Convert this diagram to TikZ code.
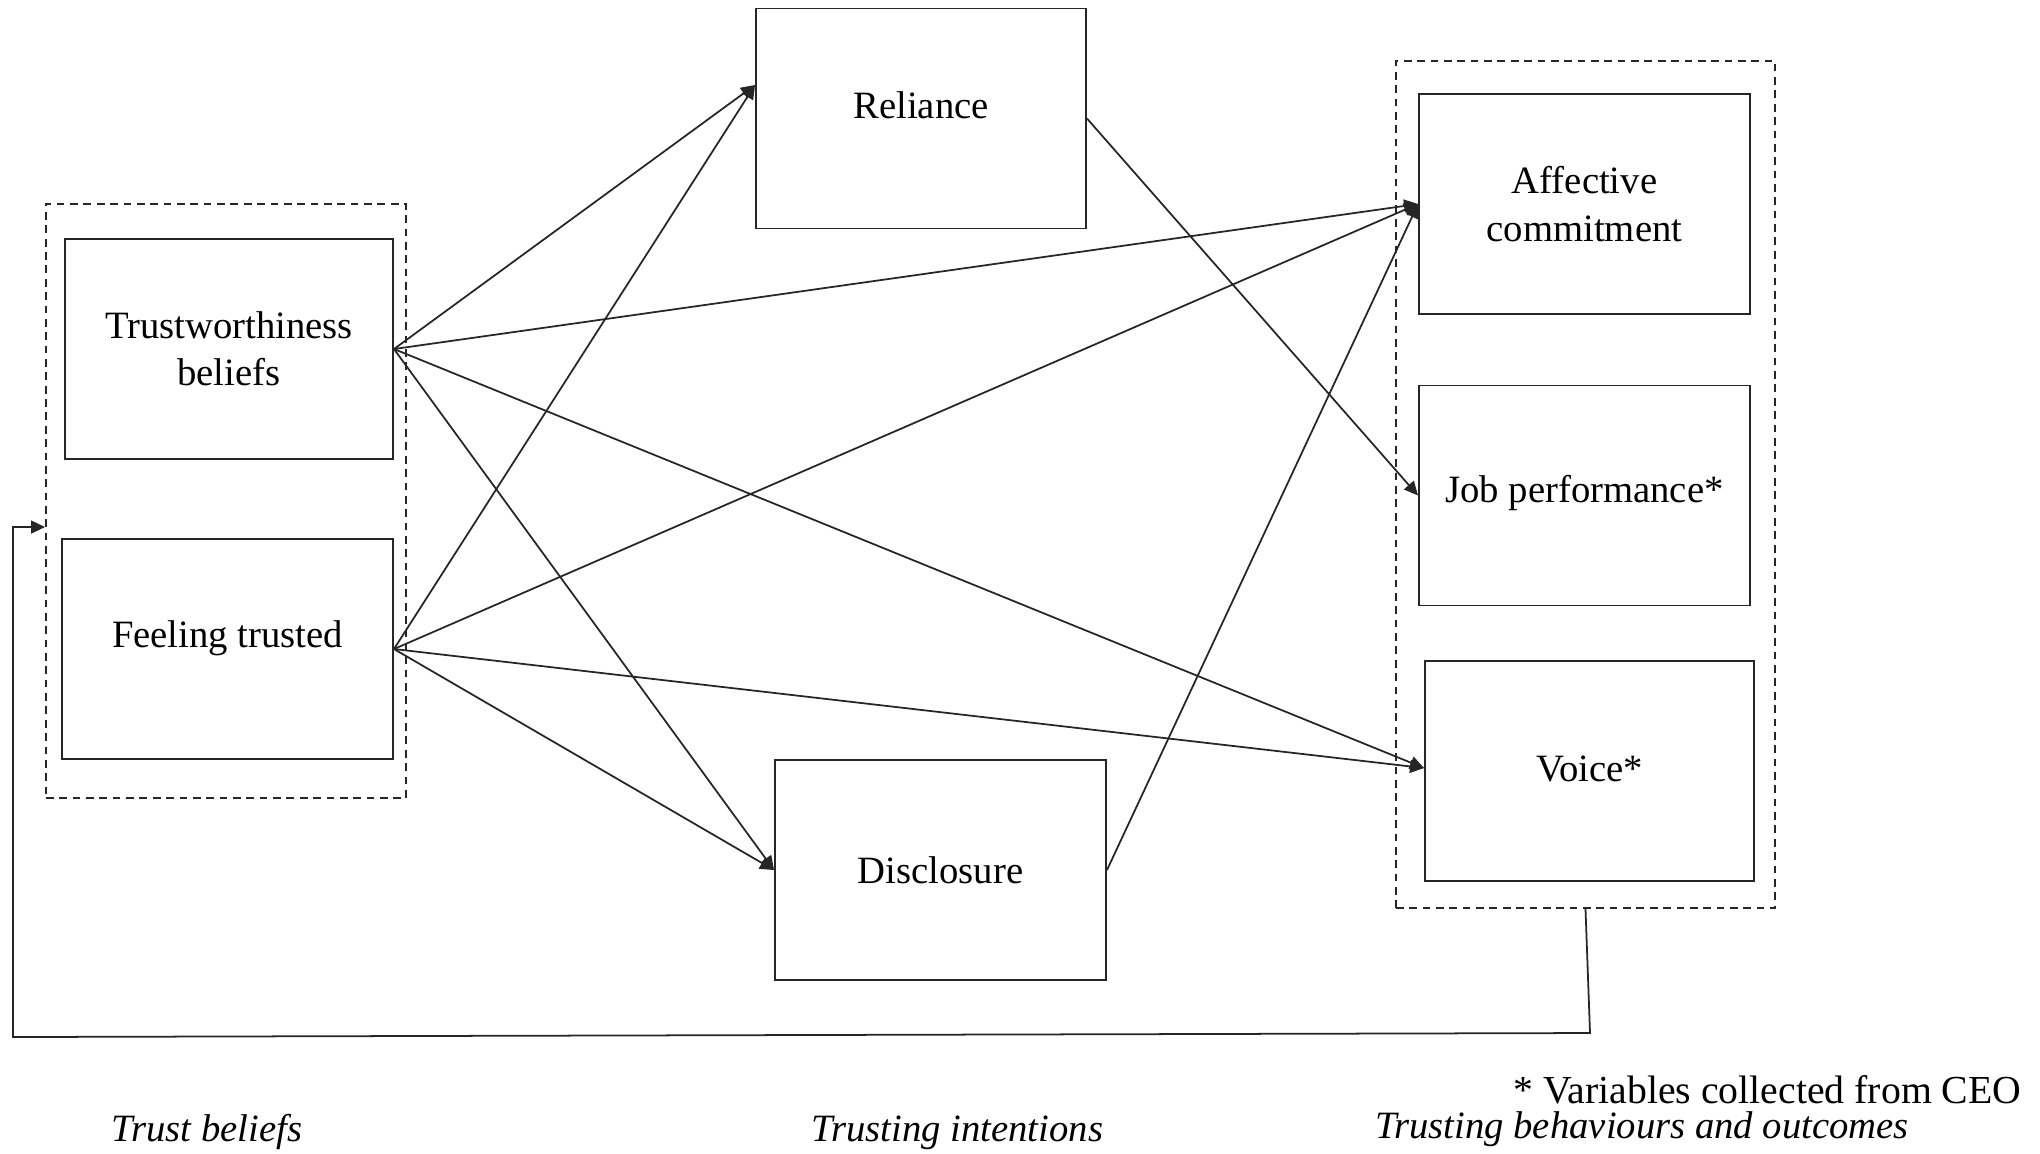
\documentclass[tikz,border=0pt]{standalone}
\usepackage{fontspec}
\setmainfont{Liberation Serif}
\usetikzlibrary{arrows.meta,calc}

\begin{document}
\begin{tikzpicture}[x=0.01cm,y=-0.01cm,
    box/.style={draw=black!85,line width=0.5pt,minimum width=3.3cm,minimum height=2.2cm,align=center,inner sep=0pt,font=\fontsize{11}{13.5}\selectfont},
    grp/.style={draw=black!85,line width=0.5pt,dash pattern=on 2.2pt off 1.6pt,inner sep=0pt},
    link/.style={draw=black!85,line width=0.5pt,-{Triangle[length=1.4mm,width=1.3mm]}},
    lbl/.style={font=\fontsize{11}{13}\selectfont\itshape,inner sep=0pt}]
  \useasboundingbox (0,0) rectangle (2040,1153);
  \node[grp,minimum width=3.6cm,minimum height=5.94cm] (trustgrp) at (226,501) {};
  \node[grp,minimum width=3.79cm,minimum height=8.47cm] (outgrp) at (1585.5,484.5) {};
  \node[box,minimum width=3.28cm] (worthy) at (229,349) {Trustworthiness\\beliefs};
  \node[box,minimum width=3.31cm,text depth=0.3cm] (felt) at (227.5,649) {Feeling trusted};
  \node[box,text depth=0.26cm] (rely) at (921,118.5) {Reliance};
  \node[box,minimum width=3.31cm] (disc) at (940.5,870) {Disclosure};
  \node[box,minimum width=3.31cm] (affect) at (1584.5,204) {Affective\\commitment};
  \node[box,minimum width=3.31cm,text depth=0.13cm] (job) at (1584.5,495.5) {Job performance*};
  \node[box,minimum width=3.29cm,text depth=0.05cm] (voice) at (1589.5,771) {Voice*};
  \draw[link] (worthy.east) -- ([yshift=0.335cm]rely.west);
  \draw[link] (felt.east) -- ([yshift=0.335cm]rely.west);
  \draw[link] (worthy.east) -- (disc.west);
  \draw[link] (felt.east) -- (disc.west);
  \draw[link] (worthy.east) -- (affect.west);
  \draw[link] (felt.east) -- (affect.west);
  \draw[link] (disc.east) -- (affect.west);
  \draw[link] (rely.east) -- (job.west);
  \draw[link] (worthy.east) -- ([yshift=0.03cm]voice.west);
  \draw[link] (felt.east) -- ([yshift=0.03cm]voice.west);
  \coordinate (fbr) at (1590,1033);
  \coordinate (fbl) at (13,1037);
  \draw[link] (outgrp.south) -- (fbr) -- (fbl) |- ([yshift=-0.26cm]trustgrp.west);
  \node[font=\fontsize{11.3}{13}\selectfont,inner sep=0pt] (note) at (1767.5,1090) {* Variables collected from CEO};
  \node[lbl] (outlbl) at (1642,1129) {Trusting behaviours and outcomes};
  \node[lbl] (trustlbl) at (207,1132) {Trust beliefs};
  \node[lbl] (intlbl) at (957.5,1133) {Trusting intentions};
\end{tikzpicture}
\end{document}
